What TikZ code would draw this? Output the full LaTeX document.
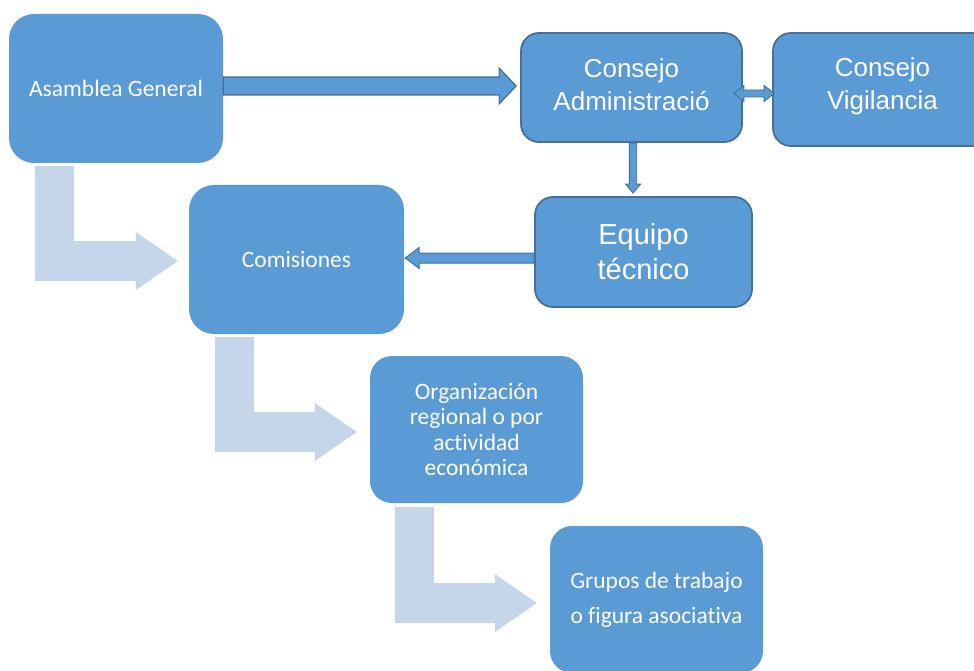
\documentclass[tikz,border=0pt]{standalone}
\usepackage{fontspec}
\newfontfamily\calib[Ligatures=NoCommon]{Carlito}
\newfontfamily\arialf{Liberation Sans}
\usetikzlibrary{calc}
\definecolor{boxfill}{HTML}{5B9BD5}
\definecolor{boxline}{HTML}{41719C}
\definecolor{lightarr}{HTML}{C5D5EA}
\tikzset{
  box/.style={fill=boxfill, text=white, align=center, inner sep=0pt},
  bordered/.style={draw=boxline, line width=1.8pt},
  blockarr/.style={fill=boxfill, draw=boxline, line width=1.2pt, line join=miter},
  lightL/.style={fill=lightarr, draw=none},
  cfont/.style={font=\calib\fontsize{23.5}{25.5}\selectfont},
  inlabel/.style={text=white, align=center, inner sep=0pt},
}
\begin{document}
\begin{tikzpicture}[x=1pt,y=-1pt]
\clip (0,0) rectangle (974,671);
\fill[white] (0,0) rectangle (974,671);

% nodes
\node[box, rounded corners=25pt, minimum width=214pt, minimum height=149pt, cfont] (asam) at (116,88.5) {Asamblea General};
\node[box, bordered, rounded corners=18pt, minimum width=221pt, minimum height=109pt,
      label={[inlabel, font=\arialf\fontsize{26}{33}\selectfont, yshift=3pt]center:Consejo\\Administració}] (admin) at (631.5,87.5) {};
\node[box, bordered, rounded corners=18pt, minimum width=219pt, minimum height=113pt,
      label={[inlabel, font=\arialf\fontsize{26}{33}\selectfont, yshift=3pt]center:Consejo\\Vigilancia}] (vig) at (882.5,89.5) {};
\node[box, bordered, rounded corners=18pt, minimum width=217pt, minimum height=110pt,
      font=\arialf\fontsize{29}{35}\selectfont] (equipo) at (643.5,252) {Equipo\\técnico};
\node[box, rounded corners=25pt, minimum width=215pt, minimum height=149pt, cfont] (comis) at (296.5,259.5) {Comisiones};
\node[box, rounded corners=22pt, minimum width=213pt, minimum height=147pt, cfont] (org) at (476.5,429.5)
  {Organización\\regional o por\\actividad\\económica};
\node[box, rounded corners=22pt, minimum width=213pt, minimum height=147pt,
      font=\calib\fontsize{23.5}{35}\selectfont] (grupos) at (656.5,599.5)
  {Grupos de trabajo\\o figura asociativa};

% light L-shaped arrows
\coordinate (l1s) at ($(asam.south west)+(26,3)$);
\coordinate (l1t) at ($(comis.west)+(-11,1.5)$);
\coordinate (l2s) at ($(comis.south west)+(26,3)$);
\coordinate (l2t) at ($(org.west)+(-13,2.5)$);
\coordinate (l3s) at ($(org.south west)+(25,4)$);
\coordinate (l3t) at ($(grupos.west)+(-13,3.5)$);
\foreach \s/\t in {l1s/l1t, l2s/l2t, l3s/l3t}{
  \path[lightL] let \p1=(\s), \p2=(\t) in
    (\x1,\y1) -- (\x1+39pt,\y1) -- (\x1+39pt,\y2+20pt) -- (\x2-42pt,\y2+20pt)
    -- (\x2-42pt,\y2+29pt) -- (\x2,\y2) -- (\x2-42pt,\y2-29pt) -- (\x2-42pt,\y2-20pt)
    -- (\x1,\y2-20pt) -- cycle;
}

% block arrow Asamblea -> Consejo Administracion
\coordinate (a1s) at ($(asam.east)+(0,-2.5)$);
\coordinate (a1t) at ($(admin.west)+(-4,-1.5)$);
\path[blockarr] let \p1=(a1s), \p2=(a1t) in
  (\x1,\y2+9pt) -- (\x2-17pt,\y2+9pt) -- (\x2-17pt,\y2+18pt) -- (\x2,\y2)
  -- (\x2-17pt,\y2-18pt) -- (\x2-17pt,\y2-9pt) -- (\x1,\y2-9pt) -- cycle;

% double arrow Administracion <-> Vigilancia
\coordinate (a2l) at ($(admin.east)+(-9,6)$);
\coordinate (a2r) at ($(vig.west)+(2,4)$);
\path[blockarr, line width=0.9pt] let \p1=(a2l), \p2=(a2r) in
  (\x1,\y1) -- (\x1+10pt,\y1+8pt) -- (\x1+10pt,\y1+3.5pt) -- (\x2-10pt,\y1+3.5pt)
  -- (\x2-10pt,\y1+8pt) -- (\x2,\y1) -- (\x2-10pt,\y1-8pt) -- (\x2-10pt,\y1-3.5pt)
  -- (\x1+10pt,\y1-3.5pt) -- (\x1+10pt,\y1-8pt) -- cycle;

% down arrow Administracion -> Equipo
\coordinate (a3s) at ($(admin.south)+(1.5,0)$);
\coordinate (a3t) at ($(equipo.north)+(-10.5,-3)$);
\path[blockarr, line width=0.9pt] let \p1=(a3s), \p2=(a3t) in
  (\x1-3.7pt,\y1) -- (\x1-3.7pt,\y2+9pt) -- (\x1-7.5pt,\y2+9pt) -- (\x1,\y2)
  -- (\x1+7.5pt,\y2+9pt) -- (\x1+3.7pt,\y2+9pt) -- (\x1+3.7pt,\y1) -- cycle;

% left arrow Equipo -> Comisiones
\coordinate (a4s) at ($(equipo.west)+(0,6)$);
\coordinate (a4t) at ($(comis.east)+(1,-1.5)$);
\path[blockarr, line width=1pt] let \p1=(a4s), \p2=(a4t) in
  (\x1,\y2+5pt) -- (\x2+14pt,\y2+5pt) -- (\x2+14pt,\y2+10.5pt) -- (\x2,\y2)
  -- (\x2+14pt,\y2-10.5pt) -- (\x2+14pt,\y2-5pt) -- (\x1,\y2-5pt) -- cycle;
\end{tikzpicture}
\end{document}
